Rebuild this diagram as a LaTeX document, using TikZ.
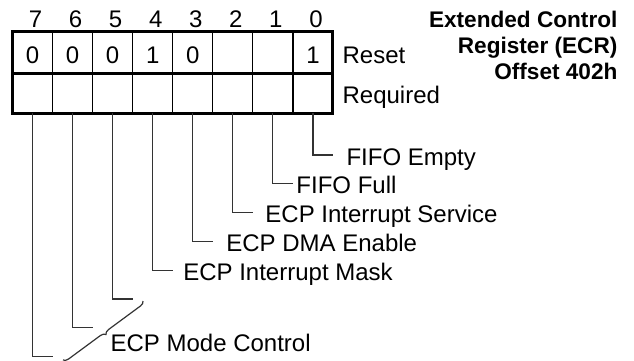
\documentclass[tikz,border=0pt]{standalone}
\usepackage{fontspec}
\setmainfont{Liberation Sans}
\usetikzlibrary{decorations.pathreplacing}
\definecolor{cline}{HTML}{333333}
\tikzset{
  every picture/.style={font=\fontsize{24}{28}\selectfont, line width=1.2pt},
  cell/.style={draw=black, minimum width=40.06pt, inner sep=0pt, outer sep=0pt, text height=22pt, text depth=0pt},
  frame/.style={draw=black, line width=3pt},
  leader/.style={draw=cline, line width=1.2pt},
  note/.style={anchor=base west, inner sep=0pt},
  bitno/.style={anchor=base, inner sep=0pt},
  title/.style={font=\fontsize{22.6}{26}\selectfont\bfseries, align=right, anchor=north east, inner sep=0pt},
}
\begin{document}
\begin{tikzpicture}[x=1pt, y=-1pt]
  \useasboundingbox (0,0) rectangle (634,360);
  % register cells, bit 7 on the left
  \foreach \n/\v in {7/0, 6/0, 5/0, 4/1, 3/0, 2/{}, 1/{}, 0/1} {
    \node[cell, minimum height=42.5pt] (val\n) at ({32.53+40.06*(7-\n)}, 52.25) {\v};
    \node[cell, minimum height=39.5pt] (req\n) at ({32.53+40.06*(7-\n)}, 93.25) {};
    \node[bitno] (bit\n) at ({35.5+40.06*(7-\n)}, 27) {\n};
  }
  \draw[frame] (val7.north west) rectangle (req0.south east);
  \draw[frame] (val7.south west) -- (val0.south east);
  \node[note] (reset) at (342,63.5) {Reset};
  \node[note] (required) at (342,103.5) {Required};
  \node[title] (ecr) at (618,11) {Extended Control\\Register (ECR)\\Offset 402h};
  % leaders with their labels
  \foreach \n/\g/\t in {0/13/FIFO Empty, 1/3/FIFO Full, 2/12/ECP Interrupt Service,
      3/13/ECP DMA Enable, 4/10/ECP Interrupt Mask} {
    \coordinate (end\n) at ({52.53+40.06*(7-\n)}, {155+28.8*\n});
    \draw[leader] (req\n.south) |- (end\n);
    \node[note] (lab\n) at ([shift={(\g,10)}]end\n) {\t};
  }
  % mode bits, grouped by a brace
  \foreach \n in {5,6,7} {
    \coordinate (end\n) at ({52.53+40.06*(7-\n)}, {155+28.8*\n});
    \draw[leader] (req\n.south) |- (end\n);
  }
  \coordinate (bra) at (143,301);
  \coordinate (brb) at (63,360);
  \draw[leader, decorate, decoration={brace, amplitude=5pt}] (bra) -- (brb);
  \node[note] (mode) at (110,351) {ECP Mode Control};
\end{tikzpicture}
\end{document}
